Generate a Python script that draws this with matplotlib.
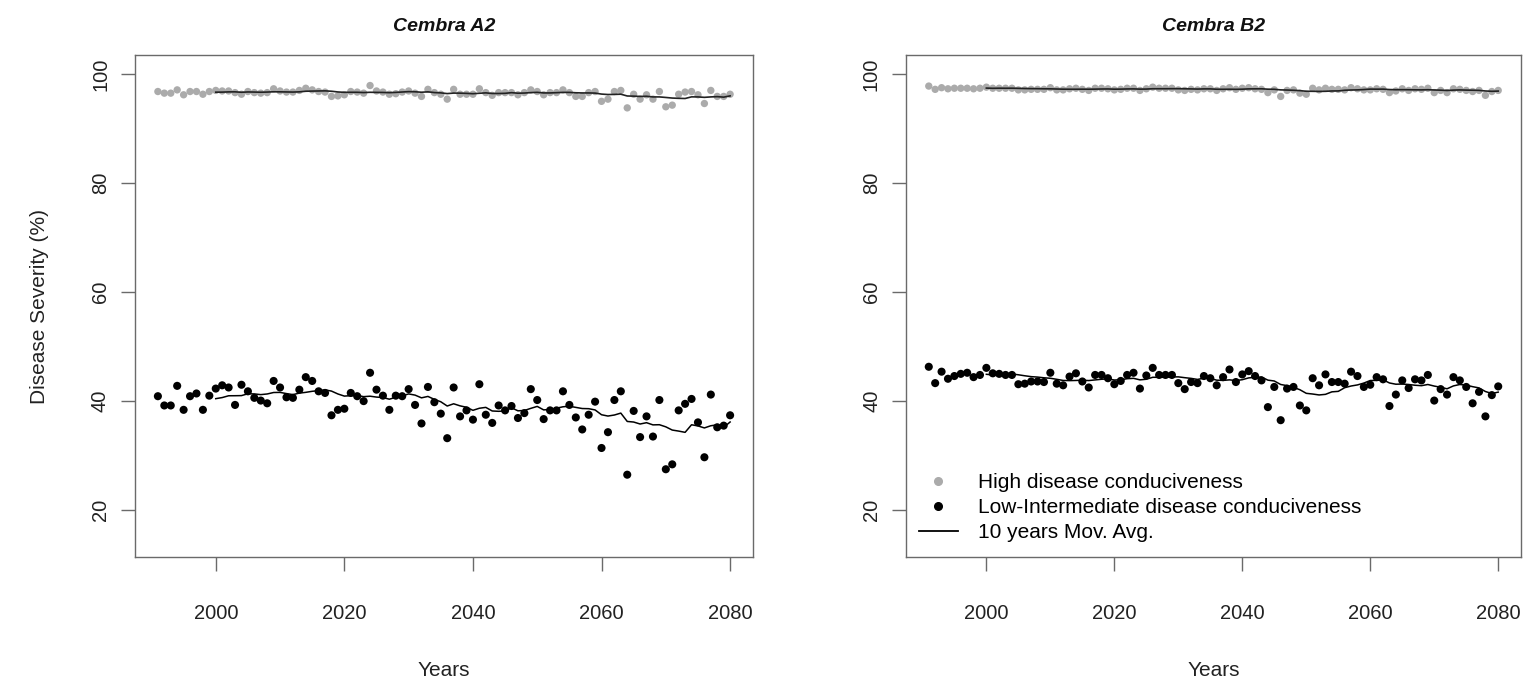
import numpy as np
import pandas as pd
import matplotlib
matplotlib.use("Agg")
import matplotlib.pyplot as plt
from matplotlib.lines import Line2D

plt.rcParams['font.family'] = ['Liberation Sans', 'DejaVu Sans']

years = list(range(1991, 2081))

# Cembra A2
a2_low = [40.9, 39.2, 39.2, 42.8, 38.4, 40.9, 41.4, 38.4, 41.0, 42.3,
          42.9, 42.5, 39.3, 43.0, 41.8, 40.6, 40.1, 39.6, 43.7, 42.5,
          40.7, 40.6, 42.1, 44.4, 43.7, 41.8, 41.5, 37.4, 38.4, 38.6,
          41.5, 40.9, 40.0, 45.2, 42.1, 41.0, 38.4, 41.0, 40.9, 42.2,
          39.3, 35.9, 42.6, 39.8, 37.7, 33.2, 42.5, 37.2, 38.3, 36.6,
          43.1, 37.5, 36.0, 39.2, 38.3, 39.1, 36.9, 37.8, 42.2, 40.2,
          36.7, 38.3, 38.3, 41.8, 39.3, 37.0, 34.8, 37.5, 39.9, 31.4,
          34.3, 40.2, 41.8, 26.5, 38.2, 33.4, 37.2, 33.5, 40.2, 27.5,
          28.4, 38.3, 39.5, 40.4, 36.1, 29.7, 41.2, 35.2, 35.5, 37.4]
a2_high = [96.8, 96.5, 96.5, 97.1, 96.2, 96.8, 96.8, 96.3, 96.8, 97.0,
           96.9, 96.9, 96.6, 96.3, 96.8, 96.6, 96.5, 96.6, 97.3, 96.9,
           96.7, 96.7, 97.0, 97.4, 97.1, 96.8, 96.7, 95.9, 96.0, 96.2,
           96.8, 96.7, 96.5, 97.9, 96.9, 96.7, 96.3, 96.4, 96.7, 96.9,
           96.5, 95.9, 97.2, 96.6, 96.3, 95.4, 97.2, 96.3, 96.3, 96.3,
           97.3, 96.6, 96.1, 96.6, 96.6, 96.6, 96.2, 96.6, 97.1, 96.8,
           96.2, 96.6, 96.6, 97.1, 96.6, 95.9, 95.9, 96.6, 96.8, 95.0,
           95.4, 96.8, 97.0, 93.8, 96.3, 95.4, 96.2, 95.4, 96.8, 94.0,
           94.3, 96.3, 96.7, 96.8, 96.2, 94.6, 97.0, 95.9, 95.9, 96.3]

# Cembra B2
b2_low = [46.3, 43.3, 45.4, 44.1, 44.6, 45.0, 45.2, 44.4, 44.8, 46.1,
          45.1, 45.0, 44.8, 44.8, 43.1, 43.2, 43.6, 43.6, 43.5, 45.2,
          43.2, 42.9, 44.5, 45.1, 43.6, 42.5, 44.8, 44.8, 44.2, 43.1,
          43.7, 44.8, 45.2, 42.3, 44.7, 46.1, 44.8, 44.8, 44.8, 43.3,
          42.2, 43.5, 43.3, 44.6, 44.2, 42.9, 44.4, 45.8, 43.5, 44.9,
          45.5, 44.6, 43.8, 38.9, 42.6, 36.5, 42.3, 42.6, 39.2, 38.3,
          44.2, 42.9, 44.9, 43.5, 43.5, 43.2, 45.4, 44.6, 42.6, 43.0,
          44.4, 44.0, 39.1, 41.2, 43.8, 42.4, 44.0, 43.8, 44.8, 40.1,
          42.2, 41.2, 44.4, 43.8, 42.6, 39.6, 41.7, 37.2, 41.1, 42.7]
b2_high = [97.8, 97.2, 97.5, 97.3, 97.4, 97.4, 97.4, 97.3, 97.4, 97.6,
           97.4, 97.4, 97.4, 97.4, 97.1, 97.1, 97.2, 97.2, 97.2, 97.5,
           97.1, 97.1, 97.3, 97.4, 97.2, 97.0, 97.4, 97.4, 97.3, 97.1,
           97.2, 97.4, 97.4, 97.0, 97.3, 97.6, 97.4, 97.4, 97.4, 97.1,
           97.0, 97.2, 97.1, 97.3, 97.3, 97.0, 97.3, 97.5, 97.2, 97.4,
           97.5, 97.3, 97.2, 96.6, 97.1, 95.9, 97.0, 97.1, 96.5, 96.3,
           97.4, 97.1, 97.4, 97.2, 97.2, 97.1, 97.5, 97.3, 97.1, 97.1,
           97.3, 97.2, 96.6, 96.9, 97.3, 97.0, 97.3, 97.2, 97.4, 96.6,
           97.0, 96.6, 97.3, 97.2, 97.0, 96.8, 97.0, 96.1, 96.8, 97.0]

titles = ["Cembra A2", "Cembra B2"]
x_ticks = [2000, 2020, 2040, 2060, 2080]
y_ticks = [20, 40, 60, 80, 100]
legend_labels = ["High disease conduciveness",
                 "Low-Intermediate disease conduciveness",
                 "10 years Mov. Avg."]

W, H = 1530, 684
fig = plt.figure(figsize=(W / 100, H / 100), dpi=100)
ax1 = fig.add_axes([135 / W, 1 - 557 / H, (753 - 135) / W, (557 - 55) / H])
ax2 = fig.add_axes([906 / W, 1 - 557 / H, (1521 - 906) / W, (557 - 55) / H])

gray_col = '#ababab'
frame_col = '#6a6a6a'

for ax, title, low, high in [(ax1, titles[0], a2_low, a2_high),
                             (ax2, titles[1], b2_low, b2_high)]:
    yrs = np.array(years)
    ma_low = pd.Series(low).rolling(10).mean()
    ma_high = pd.Series(high).rolling(10).mean()
    ax.scatter(yrs, high, s=28, color=gray_col, edgecolors='none', zorder=2)
    ax.scatter(yrs, low, s=34, color='black', edgecolors='none', zorder=2)
    ax.plot(yrs, ma_high, color='#222222', lw=1.2, zorder=3)
    ax.plot(yrs, ma_low, color='black', lw=1.1, zorder=3)
    span = yrs.max() - yrs.min()
    ax.set_xlim(yrs.min() - 0.04 * span, yrs.max() + 0.04 * span)
    ax.set_ylim(11.4, 103.5)
    ax.set_xticks(x_ticks)
    ax.set_yticks(y_ticks)
    ax.set_yticklabels([str(v) for v in y_ticks], rotation=90, va='center')
    ax.tick_params(axis='both', direction='out', length=10, width=1,
                   color=frame_col, labelsize=14.5, labelcolor='#222222')
    ax.tick_params(axis='x', pad=24)
    ax.tick_params(axis='y', pad=8)
    for sp in ax.spines.values():
        sp.set_color(frame_col)
        sp.set_linewidth(1)
    ax.set_title(title, fontsize=14, fontweight='bold', fontstyle='italic',
                 pad=17, color='#111111')
    ax.set_xlabel("Years", fontsize=15, labelpad=27, color='#222222')

ax1.set_ylabel("Disease Severity (%)", fontsize=15, labelpad=30, color='#222222')

handles = [Line2D([], [], marker='o', ls='none', color=gray_col, markersize=5.5),
           Line2D([], [], marker='o', ls='none', color='black', markersize=5.5),
           Line2D([], [], color='black', lw=1.3)]
ax2.legend(handles, legend_labels, loc='lower left', bbox_to_anchor=(0.0, 0.005),
           frameon=False, fontsize=15, handlelength=1.9, handletextpad=0.95,
           labelspacing=0.28, borderaxespad=0.2)

fig.savefig("out.png", dpi=100)
